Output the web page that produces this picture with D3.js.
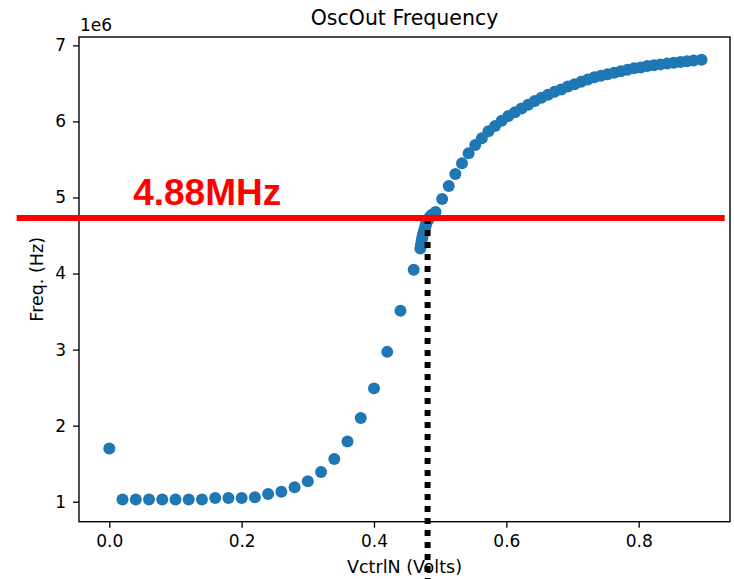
<!DOCTYPE html>
<html>
<head>
<meta charset="utf-8">
<script src="https://cdn.jsdelivr.net/npm/d3@7"></script>
<style>
  html, body { margin: 0; padding: 0; background: #fff; }
  svg { display: block; }
  text { font-family: "DejaVu Sans", sans-serif; fill: #000; }
</style>
</head>
<body>
<svg id="chart" width="734" height="579"></svg>
<script>
// ---- data (frequency in units of 1e6 Hz) ----
const vctrl = [
  0.00, 0.02, 0.04, 0.06, 0.08, 0.10, 0.12, 0.14, 0.16, 0.18, 0.20, 0.22,
  0.24, 0.26, 0.28, 0.30, 0.32, 0.34, 0.36, 0.38, 0.40, 0.42, 0.44, 0.46,
  0.470, 0.471, 0.472, 0.473, 0.474, 0.475, 0.476, 0.477, 0.478, 0.479,
  0.480, 0.482, 0.484, 0.487,
  0.493, 0.503, 0.513, 0.523, 0.533, 0.543, 0.553, 0.563, 0.573, 0.583,
  0.593, 0.603, 0.613, 0.623, 0.633, 0.643, 0.653, 0.663, 0.673, 0.683,
  0.693, 0.703, 0.713, 0.723, 0.733, 0.743, 0.753, 0.763, 0.773, 0.783,
  0.793, 0.803, 0.813, 0.823, 0.833, 0.843, 0.853, 0.863, 0.873, 0.883,
  0.895
];
const freq = [
  1.70, 1.03, 1.03, 1.03, 1.03, 1.03, 1.03, 1.03, 1.05, 1.05, 1.05, 1.06,
  1.10, 1.13, 1.19, 1.27, 1.39, 1.56, 1.79, 2.10, 2.49, 2.97, 3.51, 4.05,
  4.33, 4.38, 4.43, 4.47, 4.51, 4.54, 4.57, 4.60, 4.63, 4.66,
  4.68, 4.71, 4.74, 4.77,
  4.81, 4.98, 5.15, 5.31, 5.45, 5.58, 5.69, 5.78, 5.87, 5.94,
  6.01, 6.07, 6.12, 6.17, 6.22, 6.27, 6.31, 6.35, 6.39, 6.42,
  6.46, 6.49, 6.52, 6.55, 6.58, 6.60, 6.62, 6.64, 6.66, 6.68,
  6.70, 6.71, 6.73, 6.74, 6.75, 6.76, 6.77, 6.78, 6.79, 6.80,
  6.81
];
const xTicks = [0.0, 0.2, 0.4, 0.6, 0.8];
const yTicks = [1, 2, 3, 4, 5, 6, 7];
const titleText = "OscOut Frequency";
const xLabel = "VctrlN (Volts)";
const yLabel = "Freq. (Hz)";
const yOffsetText = "1e6";
// annotation
const markLabel = "4.88MHz";
const markFreq = 4.73;
const markV = 0.481;
const markLineX = [-0.14, 0.93];

// ---- layout ----
const W = 734, H = 579;
const plot = { left: 79, right: 730, top: 37, bottom: 521.7 };

const svg = d3.select("#chart");

const x = d3.scaleLinear().domain([-0.0458, 0.938]).range([plot.left, plot.right]);
const y = d3.scaleLinear().domain([0.737, 7.11]).range([plot.bottom, plot.top]);

// points
svg.append("g")
  .selectAll("circle")
  .data(vctrl.map((v, i) => [v, freq[i]]))
  .join("circle")
  .attr("cx", d => x(d[0]))
  .attr("cy", d => y(d[1]))
  .attr("r", 6)
  .attr("fill", "#1f77b4");

// axes
const xAxis = svg.append("g")
  .attr("transform", `translate(0,${plot.bottom})`)
  .call(d3.axisBottom(x).tickValues(xTicks).tickFormat(d3.format(".1f")).tickSize(6).tickPadding(7.5));
const yAxis = svg.append("g")
  .attr("transform", `translate(${plot.left},0)`)
  .call(d3.axisLeft(y).tickValues(yTicks).tickFormat(d3.format("d")).tickSize(6).tickPadding(7));
[xAxis, yAxis].forEach(g => {
  g.select(".domain").remove();
  g.selectAll("line").attr("stroke", "#000").attr("stroke-width", 1.3);
  g.selectAll("text").attr("font-size", 17).attr("fill", "#000")
    .style("font-family", "'DejaVu Sans', sans-serif");
});

// frame
svg.append("rect")
  .attr("x", plot.left).attr("y", plot.top)
  .attr("width", plot.right - plot.left).attr("height", plot.bottom - plot.top)
  .attr("fill", "none").attr("stroke", "#000").attr("stroke-width", 1.4);

// texts
svg.append("text").attr("x", (plot.left + plot.right) / 2).attr("y", 25)
  .attr("text-anchor", "middle").attr("font-size", 20.5).text(titleText);
svg.append("text").attr("x", (plot.left + plot.right) / 2).attr("y", 573)
  .attr("text-anchor", "middle").attr("font-size", 17.5).text(xLabel);
svg.append("text")
  .attr("transform", `translate(43,${(plot.top + plot.bottom) / 2}) rotate(-90)`)
  .attr("text-anchor", "middle").attr("font-size", 17.5).text(yLabel);
svg.append("text").attr("x", plot.left + 1).attr("y", 31)
  .attr("font-size", 17).text(yOffsetText);

// annotation: dotted vertical
svg.append("line")
  .attr("x1", x(markV)).attr("x2", x(markV))
  .attr("y1", y(markFreq)).attr("y2", H)
  .attr("stroke", "#000").attr("stroke-width", 6)
  .attr("stroke-dasharray", "6,6");

// annotation: red horizontal line
svg.append("line")
  .attr("x1", x(markLineX[0])).attr("x2", x(markLineX[1]))
  .attr("y1", y(markFreq)).attr("y2", y(markFreq))
  .attr("stroke", "#ff0000").attr("stroke-width", 6);

svg.append("text")
  .attr("x", x(0.036)).attr("y", 205)
  .style("font-family", "'Liberation Sans', Arial, sans-serif")
  .attr("font-weight", "bold").attr("font-size", 37)
  .attr("fill", "#ff0000").style("fill", "#ff0000")
  .text(markLabel);
</script>
</body>
</html>
